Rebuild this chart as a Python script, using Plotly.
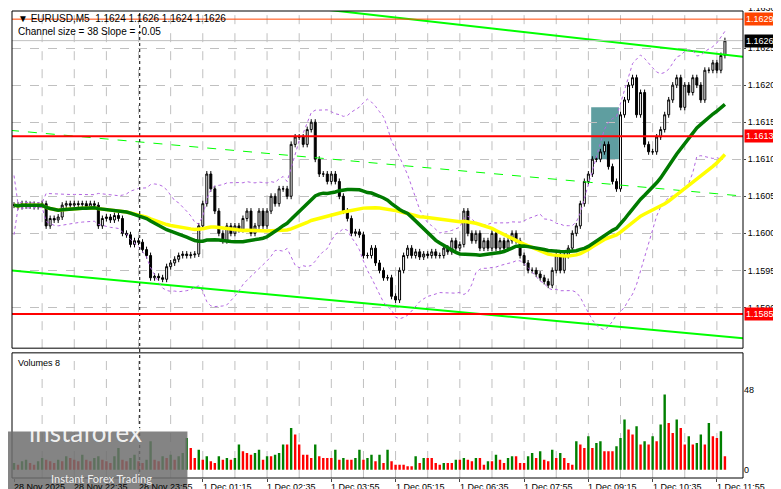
import plotly.graph_objects as go
import pandas as pd

closes = [1.16038,1.16036,1.16040,1.16037,1.16039,1.16036,1.16038,1.16040,1.16010,1.16020,1.16018,1.16022,
 1.16038,1.16040,1.16038,1.16040,1.16039,1.16040,1.16036,1.16040,1.16038,1.16010,1.16020,1.16022,1.16018,1.16024,1.16020,
 1.16000,1.15998,1.15985,1.15990,1.15988,1.15978,1.15970,1.15940,1.15942,1.15940,1.15938,1.15955,1.15960,1.15965,
 1.15970,1.15972,1.15970,1.15971,1.15972,1.16010,1.16040,1.16080,1.16060,1.16030,
 1.16000,1.15990,1.16010,1.16000,1.16010,1.16005,1.16020,1.16030,1.16000,1.16010,1.16030,1.16010,
 1.16030,1.16050,1.16040,1.16060,1.16060,1.16050,1.16120,1.16130,1.16130,1.16120,1.16140,1.16150,
 1.16100,1.16080,1.16080,1.16070,1.16080,1.16070,1.16050,1.16030,1.16020,1.16000,1.16002,1.15998,
 1.15970,1.15970,1.15980,1.15960,1.15950,1.15940,1.15940,1.15915,1.15910,1.15950,1.15970,1.15980,
 1.15970,1.15975,1.15968,1.15972,1.15970,1.15975,1.15970,1.15970,1.15980,1.15975,1.15990,1.15980,1.15985,
 1.16030,1.16000,1.15990,1.16000,1.15980,1.15990,1.15980,1.16000,1.15980,1.15990,1.15980,1.15990,1.16000,
 1.15990,1.15970,1.15960,1.15950,1.15950,1.15945,1.15940,1.15935,1.15930,1.15950,1.15970,1.15950,
 1.15970,1.15980,1.16000,1.16010,1.16040,1.16070,1.16080,1.16100,1.16100,1.16110,1.16120,1.16090,
 1.16070,1.16060,1.16160,1.16180,1.16200,1.16210,1.16160,1.16190,1.16120,1.16110,1.16110,
 1.16130,1.16140,1.16160,1.16180,1.16200,1.16210,1.16170,1.16200,1.16190,1.16210,1.16200,1.16180,1.16220,
 1.16220,1.16230,1.16220,1.16240,1.16260]

volumes = [4,3,5,6,4,3,5,7,6,5,4,6,5,8,7,6,5,9,6,5,7,8,6,5,4,8,13,6,5,7,9,5,4,6,17,6,5,8,7,9,6,8,10,
 19,13,7,12,6,8,5,4,8,6,7,6,7,15,11,10,9,10,12,6,8,8,9,10,15,15,25,21,15,9,9,7,15,8,7,7,7,12,6,7,6,6,7,12,6,7,9,5,9,4,12,5,3,3,
 3,2,2,8,4,7,7,7,4,3,4,4,4,6,6,7,6,5,7,7,3,5,5,9,6,4,7,8,8,4,4,8,10,7,11,6,5,12,7,10,7,4,3,17,15,13,20,13,16,17,11,11,11,14,19,30,24,21,26,15,17,15,20,17,27,45,28,22,30,25,15,20,15,16,21,15,28,20,19,23,8]

n = min(len(closes), len(volumes))
closes = closes[:n]
volumes = volumes[:n]
idx = list(range(n))

tick_idx = [0, 15, 31, 47, 63, 79, 95, 111, 127, 143, 159, 175]
tick_text = ["28 Nov 2025", "28 Nov 22:35", "28 Nov 23:55", "1 Dec 01:15", "1 Dec 02:35", "1 Dec 03:55",
             "1 Dec 05:15", "1 Dec 06:35", "1 Dec 07:55", "1 Dec 09:15", "1 Dec 10:35", "1 Dec 11:55"]
grid_idx = list(range(-1, n + 8, 8))

price_ticks = [1.1590, 1.1595, 1.1600, 1.1605, 1.1610, 1.1615, 1.1620, 1.1625]
levels = {"support": 1.15891, "resist": 1.16131, "top": 1.16289, "bid": 1.16260}

chan_x = [-1, 182]
chan_upper = [1.16350, 1.16238]
chan_mid = [1.16139, 1.16050]
chan_lower = [1.15950, 1.15858]
box_idx = [143.7, 150.6]
box_price = [1.16100, 1.16170]
separator_idx = 32

opens = [closes[0]] + closes[:-1]
wick = 0.00004
highs = [max(o, c) + wick for o, c in zip(opens, closes)]
lows = [min(o, c) - wick for o, c in zip(opens, closes)]

s = pd.Series(closes)
ma_fast = s.rolling(30, min_periods=1).mean()
ma_slow = s.rolling(50, min_periods=1).mean()
bb_mid = s.rolling(20, min_periods=1).mean()
bb_sd = s.rolling(20, min_periods=1).std().fillna(0.0002)
bb_up = bb_mid + 2 * bb_sd
bb_dn = bb_mid - 2 * bb_sd

vcol = ["#008000"] + ["#008000" if volumes[i] > volumes[i - 1] else "#ff0000" for i in range(1, n)]

fig = go.Figure()
fig.add_trace(go.Scatter(x=chan_x, y=chan_lower, mode="lines", line=dict(color="#00ff00", width=2), yaxis="y"))
fig.add_trace(go.Scatter(x=chan_x, y=chan_upper, mode="lines", line=dict(color="#00ff00", width=2), yaxis="y"))
fig.add_trace(go.Scatter(x=chan_x, y=chan_mid, mode="lines", line=dict(color="#00ff00", width=1, dash="dash"), yaxis="y"))
for b in (bb_up, bb_dn):
    fig.add_trace(go.Scatter(x=idx, y=b, mode="lines", line=dict(color="#b266e0", width=1, dash="dot"), yaxis="y"))
fig.add_trace(go.Scatter(x=idx, y=ma_slow, mode="lines", line=dict(color="#ffff00", width=3.5), yaxis="y"))
fig.add_trace(go.Scatter(x=idx, y=ma_fast, mode="lines", line=dict(color="#007a00", width=3.5), yaxis="y"))
fig.add_trace(go.Candlestick(x=idx, open=opens, high=highs, low=lows, close=closes, yaxis="y",
    increasing=dict(fillcolor="white", line=dict(color="black", width=1)),
    decreasing=dict(fillcolor="black", line=dict(color="black", width=1)), whiskerwidth=0))
fig.add_trace(go.Bar(x=idx, y=volumes, marker=dict(color=vcol, line=dict(width=0)), width=0.6, yaxis="y2", xaxis="x2"))

shapes = []
for g in grid_idx:
    for yr in ("y", "y2"):
        shapes.append(dict(type="line", xref="x", yref=yr + " domain", x0=g, x1=g, y0=0, y1=1,
                           line=dict(color="#c0c0c0", width=1, dash="dash"), layer="below"))
shapes.append(dict(type="line", xref="x", yref="paper", x0=separator_idx - 0.7, x1=separator_idx - 0.7, y0=0, y1=1,
                   line=dict(color="black", width=1, dash="dot")))
shapes.append(dict(type="rect", xref="x", yref="y", x0=box_idx[0], x1=box_idx[1], y0=box_price[0], y1=box_price[1],
                   fillcolor="#5f9ea0", line=dict(width=0), layer="below"))
for key, col, w in (("resist", "#ff0000", 2), ("support", "#ff0000", 2), ("top", "#ff4500", 1), ("bid", "#c0c0c0", 1)):
    shapes.append(dict(type="line", xref="paper", yref="y", x0=0, x1=1, y0=levels[key], y1=levels[key], line=dict(color=col, width=w)))
shapes.append(dict(type="rect", xref="x domain", yref="y domain", x0=0, x1=1, y0=0, y1=1, line=dict(color="black", width=1)))
shapes.append(dict(type="rect", xref="x domain", yref="y2 domain", x0=0, x1=1, y0=0, y1=1, line=dict(color="black", width=1)))
shapes.append(dict(type="rect", xref="paper", yref="paper", x0=-0.006, x1=0.24, y0=-0.041, y1=0.0995,
                   fillcolor="rgba(110,110,110,0.85)", line=dict(width=0)))

f = "Liberation Sans"
ann = []
def lab(price, text, bg, fc):
    ann.append(dict(xref="paper", yref="y", x=1.002, y=price, text=text, showarrow=False, xanchor="left",
                    font=dict(family=f, size=9, color=fc), bgcolor=bg, borderpad=1))
lab(levels["top"], "1.1629", "#ff4500", "white")
lab(levels["bid"], "1.1626", "black", "white")
lab(levels["resist"], "1.1613", "#ff0000", "white")
lab(levels["support"], "1.1585", "#ff0000", "white")
ann.append(dict(xref="paper", yref="paper", x=1.004, y=1.006, text="1.1630", showarrow=False, xanchor="left", yanchor="middle", font=dict(family=f, size=9, color="black")))
for ti, tt in zip(tick_idx, tick_text):
    ann.append(dict(xref="x", yref="paper", x=ti - 0.5, y=-0.005, text=tt, showarrow=False, xanchor="left", yanchor="top",
                    font=dict(family=f, size=9, color="black")))
ann.append(dict(xref="paper", yref="paper", x=0.005, y=1.0, text="▼ EURUSD,M5  1.1624 1.1626 1.1624 1.1626",
                showarrow=False, xanchor="left", yanchor="top", font=dict(family=f, size=10, color="black")))
ann.append(dict(xref="paper", yref="paper", x=0.005, y=0.973, text="Channel size = 38 Slope = -0.05",
                showarrow=False, xanchor="left", yanchor="top", font=dict(family=f, size=10, color="black")))
ann.append(dict(xref="paper", yref="paper", x=0.005, y=0.262, text="Volumes 8",
                showarrow=False, xanchor="left", yanchor="top", font=dict(family=f, size=9, color="black")))
ann.append(dict(xref="paper", yref="paper", x=0.02, y=0.06, text="instaforex", showarrow=False, xanchor="left",
                font=dict(family="Lato", size=26, color="rgba(255,255,255,0.9)")))
ann.append(dict(xref="paper", yref="paper", x=0.05, y=-0.02, text="Instant Forex Trading", showarrow=False, xanchor="left",
                font=dict(family="Lato", size=11, color="rgba(255,255,255,0.9)")))

fig.update_layout(
    width=781, height=489, paper_bgcolor="white", plot_bgcolor="white", showlegend=False,
    margin=dict(l=4, r=46, t=3, b=19, autoexpand=False), shapes=shapes, annotations=ann,
    xaxis=dict(range=[-0.5, 181.5], domain=[0, 1], anchor="y", showticklabels=False, showgrid=False,
               rangeslider=dict(visible=False), zeroline=False),
    xaxis2=dict(range=[-0.5, 181.5], domain=[0, 1], anchor="y2", matches="x", tickmode="array", tickvals=tick_idx,
                showticklabels=False, showgrid=False, ticks="outside", ticklen=3, zeroline=False),
    yaxis=dict(domain=[0.278, 1], range=[1.15845, 1.1630], side="right", tickmode="array",
               tickvals=price_ticks, tickformat=".4f", gridcolor="#c0c0c0", griddash="dash",
               tickfont=dict(family=f, size=9, color="black"), zeroline=False, ticks="outside", ticklen=2),
    yaxis2=dict(domain=[0, 0.268], range=[-5, 70], side="right", tickmode="array", tickvals=[0, 48],
                showgrid=False, zeroline=False, tickfont=dict(family=f, size=9, color="black"), anchor="x2"),
)
fig.write_html("out.html")
